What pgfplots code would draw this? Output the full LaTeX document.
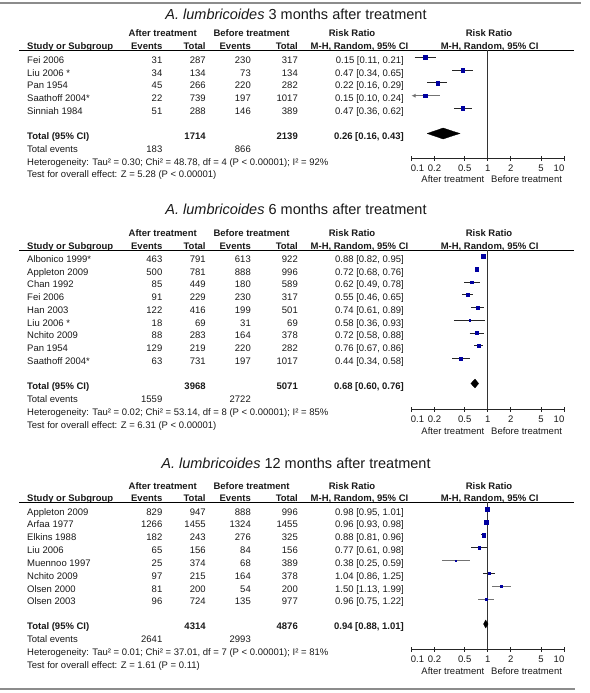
\documentclass[border=0pt]{standalone}
\usepackage{fontspec}
\setmainfont{Liberation Sans}
\usepackage{pgfplots}
\pgfplotsset{compat=1.18}
\usetikzlibrary{arrows.meta}
\definecolor{rmblue}{RGB}{0,0,160}
\newcommand{\fs}{\fontsize{9.5bp}{11bp}\selectfont}
\newcommand{\tl}[3]{\node[anchor=base west] at (#1bp,-#2bp) {#3};}
\newcommand{\tr}[3]{\node[anchor=base east] at (#1bp,-#2bp) {#3};}
\newcommand{\tc}[3]{\node[anchor=base] at (#1bp,-#2bp) {#3};}
% name, after events, after total, before events, before total, RR text, baseline y
\newcommand{\srow}[7]{\tl{27}{#7}{#1}\tr{162.5}{#7}{#2}\tr{205.8}{#7}{#3}\tr{251}{#7}{#4}\tr{298}{#7}{#5}\tr{404}{#7}{#6}}
% group header baseline, sub header baseline, rule y
\newcommand{\heads}[3]{%
 \tc{162.7}{#1}{\bfseries After treatment}\tc{251.6}{#1}{\bfseries Before treatment}%
 \tc{352}{#1}{\bfseries Risk Ratio}\tc{489}{#1}{\bfseries Risk Ratio}%
 \tl{27}{#2}{\bfseries Study or Subgroup}\tr{162.5}{#2}{\bfseries Events}\tr{205.8}{#2}{\bfseries Total}%
 \tr{251}{#2}{\bfseries Events}\tr{298}{#2}{\bfseries Total}%
 \tc{359.5}{#2}{\bfseries M-H, Random, 95\% CI}\tc{489.6}{#2}{\bfseries M-H, Random, 95\% CI}%
 \draw[black, line width=0.9bp] (19bp,-#3bp) -- (574bp,-#3bp);}
\newcommand{\capt}[1]{\tr{484.5}{#1}{After treatment}\tl{491}{#1}{Before treatment}}
\pgfplotsset{every axis/.append style={
  scale only axis, width=152.5bp,
  xmode=log, xmin=0.1, xmax=10, enlargelimits=false,
  axis x line=bottom, axis y line=none,
  xtick={0.1,0.2,0.5,1,2,5,10},
  xticklabels={{\hspace*{12bp}0.1},0.2,0.5,1,2,5,{10\hspace*{10bp}}},
  minor xtick={}, xtick align=center, major tick length=5bp,
  clip=false}}
\tikzset{
 ci/.style={black!85, line width=0.9bp},
 cig/.style={black!55, line width=0.9bp},
 vline/.style={black!80, line width=0.8bp},
 diam/.style={fill=black, draw=black, line width=0.3bp}
}
\begin{document}
\begin{tikzpicture}[every node/.style={inner sep=0pt, font=\fs, text=black!90}]
\useasboundingbox (0,0) rectangle (590bp,-693bp);
\draw[black!45, line width=2bp] (0,-3bp) -- (581bp,-3bp);
\draw[black!45, line width=1.6bp] (0,-689bp) -- (575bp,-689bp);

% ---------------- Panel 1 ----------------
\node[anchor=base, font=\fontsize{14.5bp}{16bp}\selectfont] at (296bp,-19.2bp) {\textit{A. lumbricoides} 3 months after treatment};
\heads{36.4}{49.4}{50}
\srow{Fei 2006}{31}{287}{230}{317}{0.15 [0.11, 0.21]}{63.3}
\srow{Liu 2006 *}{34}{134}{73}{134}{0.47 [0.34, 0.65]}{76.1}
\srow{Pan 1954}{45}{266}{220}{282}{0.22 [0.16, 0.29]}{88.9}
\srow{Saathoff 2004*}{22}{739}{197}{1017}{0.15 [0.10, 0.24]}{101.7}
\srow{Sinniah 1984}{51}{288}{146}{389}{0.47 [0.36, 0.62]}{114.5}
\srow{\bfseries Total (95\% CI)}{}{\bfseries 1714}{}{\bfseries 2139}{\bfseries 0.26 [0.16, 0.43]}{139.3}
\srow{Total events}{183}{}{866}{}{}{152.3}
\tl{27}{165.3}{Heterogeneity: Tau² = 0.30; Chi² = 48.78, df = 4 (P < 0.00001); I² = 92\%}
\tl{27}{177.8}{Test for overall effect: Z = 5.28 (P < 0.00001)}
\capt{182.3}
\begin{axis}[at={(411.5bp,-50bp)}, anchor=north west, height=108bp, ymin=-158, ymax=-50,
  x axis line style={-, black!85, line width=0.8bp}, tick style={black!85, line width=0.8bp},
  xticklabel style={font=\fs, inner sep=0pt, anchor=base, yshift=-10.8bp}]
\addplot[vline] coordinates {(1,-50) (1,-158)};
\addplot[ci] coordinates {(0.11,-57.3) (0.21,-57.3)};
\addplot[only marks, mark=square*, rmblue, mark size=1.9bp] coordinates {(0.15,-57.3)};
\addplot[ci] coordinates {(0.34,-70.1) (0.65,-70.1)};
\addplot[only marks, mark=square*, rmblue, mark size=1.9bp] coordinates {(0.47,-70.1)};
\addplot[ci] coordinates {(0.16,-82.9) (0.29,-82.9)};
\addplot[only marks, mark=square*, rmblue, mark size=1.9bp] coordinates {(0.22,-82.9)};
\addplot[cig, {Latex[length=4bp,width=4bp]}-] coordinates {(0.1,-95.7) (0.24,-95.7)};
\addplot[only marks, mark=square*, rmblue, mark size=1.9bp] coordinates {(0.15,-95.7)};
\addplot[ci] coordinates {(0.36,-108.5) (0.62,-108.5)};
\addplot[only marks, mark=square*, rmblue, mark size=1.9bp] coordinates {(0.47,-108.5)};
\addplot[diam] coordinates {(0.16,-133.5) (0.26,-128) (0.43,-133.5) (0.26,-139) (0.16,-133.5)};
\end{axis}

% ---------------- Panel 2 ----------------
\node[anchor=base, font=\fontsize{14.5bp}{16bp}\selectfont] at (296bp,-214.2bp) {\textit{A. lumbricoides} 6 months after treatment};
\heads{236.3}{249.3}{250}
\srow{Albonico 1999*}{463}{791}{613}{922}{0.88 [0.82, 0.95]}{262.3}
\srow{Appleton 2009}{500}{781}{888}{996}{0.72 [0.68, 0.76]}{275.05}
\srow{Chan 1992}{85}{449}{180}{589}{0.62 [0.49, 0.78]}{287.8}
\srow{Fei 2006}{91}{229}{230}{317}{0.55 [0.46, 0.65]}{300.55}
\srow{Han 2003}{122}{416}{199}{501}{0.74 [0.61, 0.89]}{313.3}
\srow{Liu 2006 *}{18}{69}{31}{69}{0.58 [0.36, 0.93]}{326.05}
\srow{Nchito 2009}{88}{283}{164}{378}{0.72 [0.58, 0.88]}{338.8}
\srow{Pan 1954}{129}{219}{220}{282}{0.76 [0.67, 0.86]}{351.55}
\srow{Saathoff 2004*}{63}{731}{197}{1017}{0.44 [0.34, 0.58]}{364.3}
\srow{\bfseries Total (95\% CI)}{}{\bfseries 3968}{}{\bfseries 5071}{\bfseries 0.68 [0.60, 0.76]}{389.3}
\srow{Total events}{1559}{}{2722}{}{}{402.3}
\tl{27}{415.3}{Heterogeneity: Tau² = 0.02; Chi² = 53.14, df = 8 (P < 0.00001); I² = 85\%}
\tl{27}{428.3}{Test for overall effect: Z = 6.31 (P < 0.00001)}
\capt{434.3}
\begin{axis}[at={(411.5bp,-250bp)}, anchor=north west, height=159bp, ymin=-409, ymax=-250,
  x axis line style={-, black!85, line width=0.8bp}, tick style={black!85, line width=0.8bp},
  xticklabel style={font=\fs, inner sep=0pt, anchor=base, yshift=-10.8bp}]
\addplot[vline] coordinates {(1,-250) (1,-409)};
\addplot[ci] coordinates {(0.82,-256.5) (0.95,-256.5)};
\addplot[only marks, mark=square*, rmblue, mark size=2.0bp] coordinates {(0.88,-256.5)};
\addplot[ci] coordinates {(0.68,-269.25) (0.76,-269.25)};
\addplot[only marks, mark=square*, rmblue, mark size=1.8bp] coordinates {(0.72,-269.25)};
\addplot[ci] coordinates {(0.49,-282) (0.78,-282)};
\addplot[only marks, mark=square*, rmblue, mark size=1.3bp] coordinates {(0.62,-282)};
\addplot[ci] coordinates {(0.46,-294.75) (0.65,-294.75)};
\addplot[only marks, mark=square*, rmblue, mark size=1.3bp] coordinates {(0.55,-294.75)};
\addplot[ci] coordinates {(0.61,-307.5) (0.89,-307.5)};
\addplot[only marks, mark=square*, rmblue, mark size=1.5bp] coordinates {(0.74,-307.5)};
\addplot[ci] coordinates {(0.36,-320.25) (0.93,-320.25)};
\addplot[only marks, mark=square*, rmblue, mark size=0.9bp] coordinates {(0.58,-320.25)};
\addplot[ci] coordinates {(0.58,-333) (0.88,-333)};
\addplot[only marks, mark=square*, rmblue, mark size=1.5bp] coordinates {(0.72,-333)};
\addplot[ci] coordinates {(0.67,-345.75) (0.86,-345.75)};
\addplot[only marks, mark=square*, rmblue, mark size=1.7bp] coordinates {(0.76,-345.75)};
\addplot[ci] coordinates {(0.34,-358.5) (0.58,-358.5)};
\addplot[only marks, mark=square*, rmblue, mark size=1.3bp] coordinates {(0.44,-358.5)};
\addplot[diam] coordinates {(0.60,-383.5) (0.68,-379) (0.76,-383.5) (0.68,-388) (0.60,-383.5)};
\end{axis}

% ---------------- Panel 3 ----------------
\node[anchor=base, font=\fontsize{14.5bp}{16bp}\selectfont] at (296bp,-468.2bp) {\textit{A. lumbricoides} 12 months after treatment};
\heads{489.3}{501.8}{502}
\srow{Appleton 2009}{829}{947}{888}{996}{0.98 [0.95, 1.01]}{515}
\srow{Arfaa 1977}{1266}{1455}{1324}{1455}{0.96 [0.93, 0.98]}{527.85}
\srow{Elkins 1988}{182}{243}{276}{325}{0.88 [0.81, 0.96]}{540.7}
\srow{Liu 2006}{65}{156}{84}{156}{0.77 [0.61, 0.98]}{553.55}
\srow{Muennoo 1997}{25}{374}{68}{389}{0.38 [0.25, 0.59]}{566.4}
\srow{Nchito 2009}{97}{215}{164}{378}{1.04 [0.86, 1.25]}{579.25}
\srow{Olsen 2000}{81}{200}{54}{200}{1.50 [1.13, 1.99]}{592.1}
\srow{Olsen 2003}{96}{724}{135}{977}{0.96 [0.75, 1.22]}{604.95}
\srow{\bfseries Total (95\% CI)}{}{\bfseries 4314}{}{\bfseries 4876}{\bfseries 0.94 [0.88, 1.01]}{629.8}
\srow{Total events}{2641}{}{2993}{}{}{642.6}
\tl{27}{655.6}{Heterogeneity: Tau² = 0.01; Chi² = 37.01, df = 7 (P < 0.00001); I² = 81\%}
\tl{27}{668.6}{Test for overall effect: Z = 1.61 (P = 0.11)}
\capt{674.3}
\begin{axis}[at={(411.5bp,-502bp)}, anchor=north west, height=147bp, ymin=-649, ymax=-502,
  x axis line style={-, black!85, line width=0.8bp}, tick style={black!85, line width=0.8bp},
  xticklabel style={font=\fs, inner sep=0pt, anchor=base, yshift=-10.8bp}]
\addplot[vline] coordinates {(1,-502) (1,-649)};
\addplot[ci] coordinates {(0.95,-509.2) (1.01,-509.2)};
\addplot[only marks, mark=square*, rmblue, mark size=2.2bp] coordinates {(0.98,-509.2)};
\addplot[ci] coordinates {(0.93,-522.05) (0.98,-522.05)};
\addplot[only marks, mark=square*, rmblue, mark size=2.2bp] coordinates {(0.96,-522.05)};
\addplot[ci] coordinates {(0.81,-534.9) (0.96,-534.9)};
\addplot[only marks, mark=square*, rmblue, mark size=1.8bp] coordinates {(0.88,-534.9)};
\addplot[ci] coordinates {(0.61,-547.75) (0.98,-547.75)};
\addplot[only marks, mark=square*, rmblue, mark size=1.1bp] coordinates {(0.77,-547.75)};
\addplot[cig] coordinates {(0.25,-560.6) (0.59,-560.6)};
\addplot[only marks, mark=square*, rmblue, mark size=0.8bp] coordinates {(0.38,-560.6)};
\addplot[ci] coordinates {(0.86,-573.45) (1.25,-573.45)};
\addplot[only marks, mark=square*, rmblue, mark size=1.1bp] coordinates {(1.04,-573.45)};
\addplot[cig] coordinates {(1.13,-586.3) (1.99,-586.3)};
\addplot[only marks, mark=square*, rmblue, mark size=1.0bp] coordinates {(1.50,-586.3)};
\addplot[cig] coordinates {(0.75,-599.15) (1.22,-599.15)};
\addplot[only marks, mark=square*, rmblue, mark size=1.0bp] coordinates {(0.96,-599.15)};
\addplot[diam] coordinates {(0.88,-624) (0.94,-620) (1.01,-624) (0.94,-628) (0.88,-624)};
\end{axis}
\end{tikzpicture}
\end{document}
